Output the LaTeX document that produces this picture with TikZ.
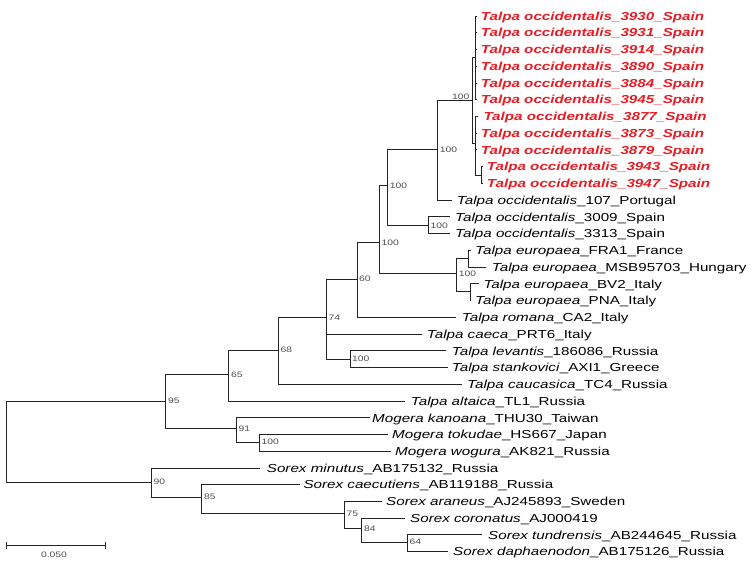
\documentclass[tikz,border=0pt]{standalone}
\usepackage{fontspec}
\setmainfont{Liberation Sans}[FakeStretch=1.31]
\usetikzlibrary{arrows.meta}
\definecolor{treeline}{RGB}{35,35,35}
\definecolor{labred}{RGB}{232,28,36}
\definecolor{bootgray}{RGB}{80,80,80}
\tikzset{
  branch/.style={draw=treeline, line width=1pt},
  leaf/.style={anchor=base west, inner sep=0pt, yshift=-4.2pt, font=\fontsize{11.6}{12}\selectfont},
  redleaf/.style={anchor=base west, inner sep=0pt, yshift=-4.2pt, text=labred, font=\fontsize{11.6}{12}\selectfont\bfseries\itshape},
  boot/.style={anchor=base west, inner sep=0pt, yshift=-2.8pt, text=bootgray, font=\fontsize{7.9}{8}\selectfont},
}
\begin{document}
\begin{tikzpicture}[x=1pt,y=-1pt]
\useasboundingbox (0,0) rectangle (756,568);
% internal nodes
\coordinate (root) at (6,441.5);
\coordinate (n95) at (165,401);
\coordinate (n65) at (228.7,374.3);
\coordinate (n68) at (278,350);
\coordinate (n74) at (326,317.3);
\coordinate (n60) at (357,279);
\coordinate (nS) at (379.3,242.7);
\coordinate (nP) at (387.7,185.3);
\coordinate (nQ) at (437.7,149.3);
\coordinate (nN0) at (472.7,100);
\coordinate (nS1) at (475,57.8);
\coordinate (nS2) at (475,143);
\coordinate (n4347) at (481,175);
\coordinate (nR) at (428.3,225.2);
\coordinate (nE) at (456.7,273.3);
\coordinate (nFM) at (468,258);
\coordinate (nBP) at (470,291);
\coordinate (nLS) at (350,359);
\coordinate (n91) at (236,428.3);
\coordinate (nMog) at (259.3,442);
\coordinate (n90) at (151,482);
\coordinate (n85) at (201.7,497);
\coordinate (n75) at (344.3,513.3);
\coordinate (n84) at (361.7,528.3);
\coordinate (n64) at (407.3,542);
% leaf ends
\coordinate (e3930) at (477,16.0);
\coordinate (e3931) at (477,32.7);
\coordinate (e3914) at (477,49.5);
\coordinate (e3890) at (477,66.2);
\coordinate (e3884) at (477,83.0);
\coordinate (e3945) at (477,99.7);
\coordinate (e3877) at (478.3,116.4);
\coordinate (e3873) at (477,133.2);
\coordinate (e3879) at (477,149.9);
\coordinate (e3943) at (483,166.7);
\coordinate (e3947) at (483,183.4);
\coordinate (ePor) at (451.7,200.1);
\coordinate (e3009) at (450,216.9);
\coordinate (e3313) at (450,233.6);
\coordinate (eFRA) at (470.5,250.4);
\coordinate (eMSB) at (486,267.1);
\coordinate (eBV2) at (479,283.8);
\coordinate (ePNA) at (471,300.6);
\coordinate (erom) at (455.5,317.3);
\coordinate (ecae) at (421.7,334.1);
\coordinate (elev) at (445.5,350.8);
\coordinate (esta) at (448,367.5);
\coordinate (ecau) at (461.7,384.3);
\coordinate (ealt) at (405,401.0);
\coordinate (ekan) at (370,417.8);
\coordinate (etok) at (388,434.5);
\coordinate (ewog) at (391,451.2);
\coordinate (emin) at (260,468.0);
\coordinate (ecaec) at (300,484.7);
\coordinate (eara) at (381.7,501.5);
\coordinate (ecor) at (405,518.2);
\coordinate (etun) at (482,534.9);
\coordinate (edap) at (447.5,551.7);
% branches
\draw[branch] (root) |- (n95);
\draw[branch] (root) |- (n90);
\draw[branch] (n95) |- (n65);
\draw[branch] (n95) |- (n91);
\draw[branch] (n65) |- (n68);
\draw[branch] (n65) |- (ealt);
\draw[branch] (n68) |- (n74);
\draw[branch] (n68) |- (ecau);
\draw[branch] (n74) |- (n60);
\draw[branch] (n74) |- (ecae);
\draw[branch] (n74) |- (nLS);
\draw[branch] (nLS) |- (elev);
\draw[branch] (nLS) |- (esta);
\draw[branch] (n60) |- (nS);
\draw[branch] (n60) |- (erom);
\draw[branch] (nS) |- (nP);
\draw[branch] (nS) |- (nE);
\draw[branch] (nP) |- (nQ);
\draw[branch] (nP) |- (nR);
\draw[branch] (nR) |- (e3009);
\draw[branch] (nR) |- (e3313);
\draw[branch] (nQ) |- (nN0);
\draw[branch] (nQ) |- (ePor);
\draw[branch] (nN0) |- (nS1);
\draw[branch] (nN0) |- (nS2);
\draw[branch] (nS1) |- (e3930);
\draw[branch] (nS1) |- (e3931);
\draw[branch] (nS1) |- (e3914);
\draw[branch] (nS1) |- (e3890);
\draw[branch] (nS1) |- (e3884);
\draw[branch] (nS1) |- (e3945);
\draw[branch] (nS2) |- (e3877);
\draw[branch] (nS2) |- (e3873);
\draw[branch] (nS2) |- (e3879);
\draw[branch] (nS2) |- (n4347);
\draw[branch] (n4347) |- (e3943);
\draw[branch] (n4347) |- (e3947);
\draw[branch] (nE) |- (nFM);
\draw[branch] (nE) |- (nBP);
\draw[branch] (nFM) |- (eFRA);
\draw[branch] (nFM) |- (eMSB);
\draw[branch] (nBP) |- (eBV2);
\draw[branch] (nBP) |- (ePNA);
\draw[branch] (n91) |- (ekan);
\draw[branch] (n91) |- (nMog);
\draw[branch] (nMog) |- (etok);
\draw[branch] (nMog) |- (ewog);
\draw[branch] (n90) |- (emin);
\draw[branch] (n90) |- (n85);
\draw[branch] (n85) |- (ecaec);
\draw[branch] (n85) |- (n75);
\draw[branch] (n75) |- (eara);
\draw[branch] (n75) |- (n84);
\draw[branch] (n84) |- (ecor);
\draw[branch] (n84) |- (n64);
\draw[branch] (n64) |- (etun);
\draw[branch] (n64) |- (edap);
% leaf labels
\node[redleaf] (l3930) at (480.7,16.0) {Talpa occidentalis\_3930\_Spain};
\node[redleaf] (l3931) at (480.7,32.7) {Talpa occidentalis\_3931\_Spain};
\node[redleaf] (l3914) at (480.7,49.5) {Talpa occidentalis\_3914\_Spain};
\node[redleaf] (l3890) at (480.7,66.2) {Talpa occidentalis\_3890\_Spain};
\node[redleaf] (l3884) at (480.7,83.0) {Talpa occidentalis\_3884\_Spain};
\node[redleaf] (l3945) at (480.7,99.7) {Talpa occidentalis\_3945\_Spain};
\node[redleaf] (l3877) at (483.3,116.4) {Talpa occidentalis\_3877\_Spain};
\node[redleaf] (l3873) at (480.7,133.2) {Talpa occidentalis\_3873\_Spain};
\node[redleaf] (l3879) at (480.7,149.9) {Talpa occidentalis\_3879\_Spain};
\node[redleaf] (l3943) at (486.7,166.7) {Talpa occidentalis\_3943\_Spain};
\node[redleaf] (l3947) at (486.7,183.4) {Talpa occidentalis\_3947\_Spain};
\node[leaf] (lPor) at (456.7,200.1) {\textit{Talpa occidentalis}\_107\_Portugal};
\node[leaf] (l3009) at (455,216.9) {\textit{Talpa occidentalis}\_3009\_Spain};
\node[leaf] (l3313) at (455,233.6) {\textit{Talpa occidentalis}\_3313\_Spain};
\node[leaf] (lFRA) at (475,250.4) {\textit{Talpa europaea}\_FRA1\_France};
\node[leaf] (lMSB) at (491.7,267.1) {\textit{Talpa europaea}\_MSB95703\_Hungary};
\node[leaf] (lBV2) at (483.3,283.8) {\textit{Talpa europaea}\_BV2\_Italy};
\node[leaf] (lPNA) at (475,300.6) {\textit{Talpa europaea}\_PNA\_Italy};
\node[leaf] (lrom) at (461.7,317.3) {\textit{Talpa romana}\_CA2\_Italy};
\node[leaf] (lcae) at (426.7,334.1) {\textit{Talpa caeca}\_PRT6\_Italy};
\node[leaf] (llev) at (451.7,350.8) {\textit{Talpa levantis}\_186086\_Russia};
\node[leaf] (lsta) at (451.7,367.5) {\textit{Talpa stankovici}\_AXI1\_Greece};
\node[leaf] (lcau) at (467,384.3) {\textit{Talpa caucasica}\_TC4\_Russia};
\node[leaf] (lalt) at (410.7,401.0) {\textit{Talpa altaica}\_TL1\_Russia};
\node[leaf] (lkan) at (372,417.8) {\textit{Mogera kanoana}\_THU30\_Taiwan};
\node[leaf] (ltok) at (392,434.5) {\textit{Mogera tokudae}\_HS667\_Japan};
\node[leaf] (lwog) at (395,451.2) {\textit{Mogera wogura}\_AK821\_Russia};
\node[leaf] (lmin) at (266.7,468.0) {\textit{Sorex minutus}\_AB175132\_Russia};
\node[leaf] (lcaec) at (303.3,484.7) {\textit{Sorex caecutiens}\_AB119188\_Russia};
\node[leaf] (lara) at (386,501.5) {\textit{Sorex araneus}\_AJ245893\_Sweden};
\node[leaf] (lcor) at (410,518.2) {\textit{Sorex coronatus}\_AJ000419};
\node[leaf] (ltun) at (488,534.9) {\textit{Sorex tundrensis}\_AB244645\_Russia};
\node[leaf] (ldap) at (453,551.7) {\textit{Sorex daphaenodon}\_AB175126\_Russia};
% bootstrap values
\node[boot, anchor=base east] (bN0) at (469.5,96.5) {100};
\node[boot] (bQ) at (439.7,149.3) {100};
\node[boot] (bP) at (389.7,185.3) {100};
\node[boot] (bR) at (430.3,225.2) {100};
\node[boot] (bS) at (381.3,242.7) {100};
\node[boot] (bE) at (458.7,273.3) {100};
\node[boot] (b60) at (359,279) {60};
\node[boot] (b74) at (328.5,317.3) {74};
\node[boot] (bLS) at (352,359) {100};
\node[boot] (b68) at (280.5,350) {68};
\node[boot] (b65) at (231,374.3) {65};
\node[boot] (b95) at (168,401) {95};
\node[boot] (b91) at (238.5,428.3) {91};
\node[boot] (bMog) at (261.5,442) {100};
\node[boot] (b90) at (153.5,482) {90};
\node[boot] (b85) at (204,497) {85};
\node[boot] (b75) at (346.5,513.3) {75};
\node[boot] (b84) at (364,528.3) {84};
\node[boot] (b64) at (409.5,542) {64};
% scale bar
\coordinate (sb1) at (6,545);
\coordinate (sb2) at (106,545);
\draw[branch, {Bar[width=7pt]}-{Bar[width=7pt]}] (sb1) -- (sb2);
\node[boot, anchor=base] (sblab) at (54,555) {0.050};
\end{tikzpicture}
\end{document}
